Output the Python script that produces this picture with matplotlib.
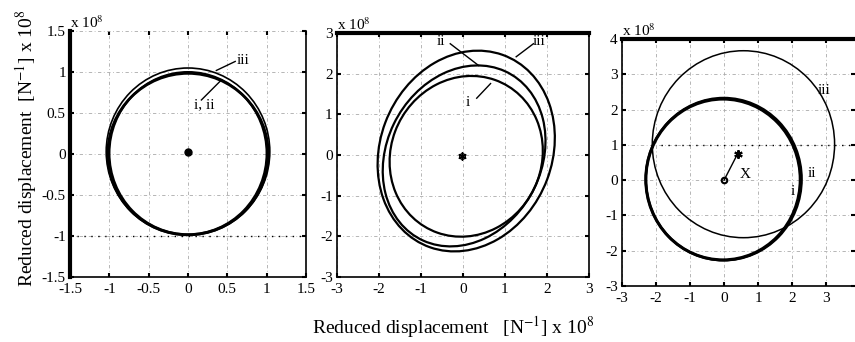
import matplotlib
matplotlib.use('Agg')
import matplotlib.pyplot as plt
from matplotlib.patches import Ellipse

plt.rcParams['font.family'] = ['Liberation Serif', 'DejaVu Serif']
plt.rcParams['mathtext.fontset'] = 'stix'

# orbit loops per panel: centre x, centre y, width, height, tilt (deg), line width
p1_cx = [0.0, 0.0, 0.0]
p1_cy = [0.0, 0.01, 0.03]
p1_w = [2.04, 2.0, 2.08]
p1_h = [1.97, 1.98, 2.04]
p1_ang = [0, 0, 0]
p1_lw = [2.0, 1.6, 1.2]

p2_cx = [0.08, 0.03, 0.08]
p2_cy = [-0.03, -0.02, 0.1]
p2_w = [4.0, 4.6, 5.04]
p2_h = [3.6, 3.7, 4.1]
p2_ang = [70, 65, 70]
p2_lw = [1.6, 1.6, 1.6]

p3_cx = [-0.03, -0.01, 0.57]
p3_cy = [0.02, 0.03, 1.02]
p3_w = [4.54, 4.58, 5.36]
p3_h = [4.56, 4.6, 5.3]
p3_ang = [0, 0, 0]
p3_lw = [2.2, 1.8, 1.1]

# centre markers / shift vector
p1_centre = (0.0, 0.02)
p2_centre = (-0.03, -0.02)
p3_shift_x = [0.0, 0.4]
p3_shift_y = [0.0, 0.75]

# curve labels: text, text position, leader start, leader end
p1_labels = [('iii', (0.62, 1.1), (0.6, 1.13), (0.36, 1.02)),
             ('i, ii', (0.08, 0.56), (0.17, 0.66), (0.42, 0.9))]
p2_labels = [('ii', (-0.62, 2.7), (-0.3, 2.74), (0.38, 2.2)),
             ('iii', (1.65, 2.7), (1.68, 2.74), (1.27, 2.42)),
             ('i', (0.07, 1.2), (0.33, 1.4), (0.66, 1.76))]
p3_labels = [('iii', (2.75, 2.45)), ('ii', (2.45, 0.1)), ('i', (1.95, -0.42)),
             ('X', (0.45, 0.05))]

fig = plt.figure(figsize=(8.55, 3.42), dpi=100)
ax1 = fig.add_axes([0.0819, 0.190, 0.276, 0.719])
ax2 = fig.add_axes([0.394, 0.190, 0.2947, 0.713])
ax3 = fig.add_axes([0.7275, 0.1637, 0.2725, 0.722])


def style(ax, xt, yt, xl, yl):
    ax.set_xlim(xl)
    ax.set_ylim(yl)
    ax.set_xticks(xt)
    ax.set_yticks(yt)
    ax.set_xticklabels([('%g' % v) for v in xt])
    ax.set_yticklabels([('%g' % v) for v in yt])
    ax.tick_params(direction='in', length=3, width=1.5, top=True, right=True,
                   labelsize=11)
    ax.tick_params(axis='x', pad=4)
    ax.tick_params(axis='y', pad=3)
    ax.grid(True, color='#aaaaaa', linestyle='-.', linewidth=0.6, dashes=(4, 3, 1, 3))
    ax.set_axisbelow(True)
    for s in ax.spines.values():
        s.set_linewidth(1.2)
    ax.text(0.0, 1.0, r'x 10$^{8}$', transform=ax.transAxes, fontsize=11,
            ha='left', va='bottom')


def loops(ax, cx, cy, w, h, ang, lw):
    for i in range(len(cx)):
        ax.add_patch(Ellipse((cx[i], cy[i]), w[i], h[i], angle=ang[i],
                             fill=False, edgecolor='black', linewidth=lw[i]))


def labels(ax, labs):
    for txt, tpos, a, b in labs:
        ax.text(tpos[0], tpos[1], txt, fontsize=11)
        ax.plot([a[0], b[0]], [a[1], b[1]], color='black', linewidth=1.0)


# panel 1
style(ax1, [-1.5, -1, -0.5, 0, 0.5, 1, 1.5], [-1.5, -1, -0.5, 0, 0.5, 1, 1.5],
      (-1.5, 1.5), (-1.5, 1.5))
ax1.spines['left'].set_linewidth(3)
ax1.spines['top'].set_visible(False)
ax1.axhline(-1, color='black', linestyle=(0, (1, 4)), linewidth=1.0)
loops(ax1, p1_cx, p1_cy, p1_w, p1_h, p1_ang, p1_lw)
ax1.plot(*p1_centre, 'o', color='black', markersize=5)
labels(ax1, p1_labels)

# panel 2
style(ax2, [-3, -2, -1, 0, 1, 2, 3], [-3, -2, -1, 0, 1, 2, 3], (-3, 3), (-3, 3))
ax2.spines['top'].set_linewidth(3)
loops(ax2, p2_cx, p2_cy, p2_w, p2_h, p2_ang, p2_lw)
ax2.plot(*p2_centre, 'o', color='black', markersize=4, mfc='none')
ax2.plot(*p2_centre, marker=(6, 2, 0), color='black', markersize=6)
labels(ax2, p2_labels)

# panel 3
style(ax3, [-3, -2, -1, 0, 1, 2, 3], [-3, -2, -1, 0, 1, 2, 3, 4], (-3, 3.85), (-3, 4))
ax3.spines['top'].set_linewidth(3)
ax3.spines['right'].set_visible(False)
ax3.plot([-1.85, 3.85], [1, 1], color='black', linestyle=(0, (1, 4)), linewidth=1.0)
loops(ax3, p3_cx, p3_cy, p3_w, p3_h, p3_ang, p3_lw)
ax3.plot(p3_shift_x, p3_shift_y, color='black', linewidth=1.0)
ax3.plot(p3_shift_x[0], p3_shift_y[0], 'o', color='black', markersize=4, mfc='none', mew=1.5)
ax3.plot(p3_shift_x[1], p3_shift_y[1], marker=(6, 2, 0), color='black', markersize=6, mew=1.5)
for txt, tpos in p3_labels:
    ax3.text(tpos[0], tpos[1], txt, fontsize=11)

fig.text(0.03, 0.567, r'Reduced displacement  [N$^{-1}$] x 10$^{8}$', rotation=90,
         fontsize=14, ha='center', va='center')
fig.text(0.53, 0.044, r'Reduced displacement   [N$^{-1}$] x 10$^{8}$',
         fontsize=14, ha='center', va='center')

fig.savefig('out.png', dpi=100)
